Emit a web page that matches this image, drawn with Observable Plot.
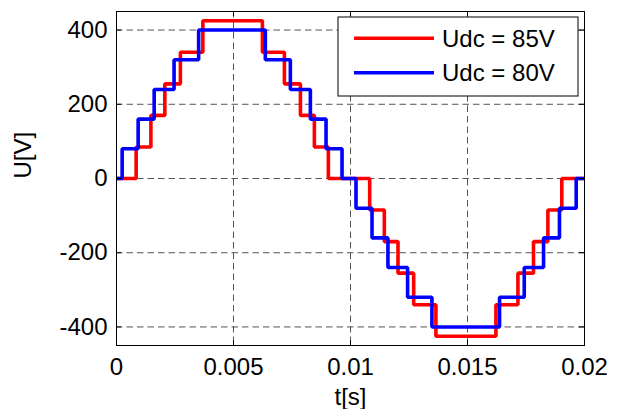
<!DOCTYPE html>
<html>
<head>
<meta charset="utf-8">
<script src="https://cdn.jsdelivr.net/npm/d3@7"></script>
<script src="https://cdn.jsdelivr.net/npm/@observablehq/plot@0.6"></script>
<style>
  html, body { margin: 0; padding: 0; background: #fff; }
  #chart { width: 623px; height: 409px; }
</style>
</head>
<body>
<div id="chart"></div>
<script>
// ---- data ----
const seriesNames = ["Udc = 85V", "Udc = 80V"];
const seriesColors = ["#ff0000", "#0000ff"];

// Udc = 85V staircase: switching instants [s] and levels [V]
const redT = [0, 0.00084, 0.00147, 0.002065, 0.00273, 0.00369, 0.006235, 0.007175, 0.00786, 0.008456, 0.009054,
              0.01082, 0.011445, 0.01203, 0.0127, 0.01365, 0.016215, 0.017155, 0.01782, 0.018435, 0.01903, 0.02];
const redU = [0, 85, 170, 255, 340, 425, 340, 255, 170, 85, 0,
              -85, -170, -255, -340, -425, -340, -255, -170, -85, 0, 0];

// Udc = 80V staircase
const blueT = [0, 0.000242, 0.000925, 0.00161, 0.00246, 0.00351, 0.00636, 0.00743, 0.008285, 0.008955, 0.009638,
               0.010235, 0.01092, 0.0116, 0.01244, 0.01348, 0.01637, 0.017425, 0.01825, 0.01893, 0.019645, 0.02];
const blueU = [0, 80, 160, 240, 320, 400, 320, 240, 160, 80, 0,
               -80, -160, -240, -320, -400, -320, -240, -160, -80, 0, 0];

const xTicks = [0, 0.005, 0.01, 0.015, 0.02];
const xTickLabels = ["0", "0.005", "0.01", "0.015", "0.02"];
const yTicks = [-400, -200, 0, 200, 400];
const yTickLabels = ["-400", "-200", "0", "200", "400"];
const xLabel = ["t[s]"];
const yLabel = ["U[V]"];

// ---- layout ----
const W = 623, H = 409;
const mL = 116, mR = 39, mT = 11, mB = 64;
const innerW = W - mL - mR, innerH = H - mT - mB;
const tickLen = 5;
const FONT = "Arial, 'Liberation Sans', Helvetica, sans-serif";

const red = redT.map((t, i) => ({t, u: redU[i]}));
const blue = blueT.map((t, i) => ({t, u: blueU[i]}));
const grid = {stroke: "#555", strokeOpacity: 1, strokeWidth: 1, strokeDasharray: "6.5,4"};

const plot = Plot.plot({
  width: W, height: H,
  marginLeft: mL, marginRight: mR, marginTop: mT, marginBottom: mB,
  style: {fontFamily: FONT, fontSize: "24px", color: "#000", background: "#fff"},
  x: {domain: [0, 0.02]},
  y: {domain: [-450, 450]},
  marks: [
    Plot.gridX(xTicks.slice(1, -1), grid),
    Plot.gridY(yTicks, grid),
    Plot.line(red, {x: "t", y: "u", curve: "step-after", stroke: seriesColors[0], strokeWidth: 3.6, strokeLinejoin: "miter", strokeLinecap: "butt"}),
    Plot.line(blue, {x: "t", y: "u", curve: "step-after", stroke: seriesColors[1], strokeWidth: 3.6, strokeLinejoin: "miter", strokeLinecap: "butt"}),
    // inward tick marks on all four sides
    Plot.tickX(xTicks, {x: d => d, insetTop: innerH - tickLen, stroke: "#000"}),
    Plot.tickX(xTicks, {x: d => d, insetBottom: innerH - tickLen, stroke: "#000"}),
    Plot.tickY(yTicks, {y: d => d, insetRight: innerW - tickLen, stroke: "#000"}),
    Plot.tickY(yTicks, {y: d => d, insetLeft: innerW - tickLen, stroke: "#000"}),
    Plot.axisX(xTicks, {anchor: "bottom", tickSize: 0, tickPadding: 12, label: null,
      tickFormat: (d, i) => xTickLabels[xTicks.indexOf(d)], fontSize: 24}),
    Plot.axisY(yTicks, {anchor: "left", tickSize: 0, tickPadding: 9, label: null,
      tickFormat: d => yTickLabels[yTicks.indexOf(d)], fontSize: 24}),
    Plot.text(xLabel, {frameAnchor: "bottom", dy: 52, fontSize: 24, lineAnchor: "middle", fill: "#000"}),
    Plot.text(yLabel, {frameAnchor: "left", dx: -93, rotate: -90, fontSize: 24, lineAnchor: "middle", fill: "#000"}),
    Plot.frame({stroke: "#000", strokeWidth: 1})
  ]
});

document.getElementById("chart").appendChild(plot);

// ---- legend (MATLAB-style box in the top-right corner) ----
const svg = d3.select(plot);
const boxW = 240, boxH = 79;
const bx = W - mR - 6 - boxW, by = mT + 6;
const lg = svg.append("g").attr("font-family", FONT).attr("font-size", 24).attr("text-anchor", "start");
lg.append("rect").attr("x", bx).attr("y", by).attr("width", boxW).attr("height", boxH)
  .attr("fill", "#fff").attr("stroke", "#000").attr("stroke-width", 1);
const rowY = [21.3, 55.7];
seriesNames.forEach((name, i) => {
  lg.append("line").attr("x1", bx + 16).attr("x2", bx + 96)
    .attr("y1", by + rowY[i]).attr("y2", by + rowY[i])
    .attr("stroke", seriesColors[i]).attr("stroke-width", 3.6);
  lg.append("text").attr("x", bx + 104).attr("y", by + rowY[i] + 8.4)
    .attr("text-anchor", "start").attr("fill", "#000").text(name);
});
</script>
</body>
</html>
